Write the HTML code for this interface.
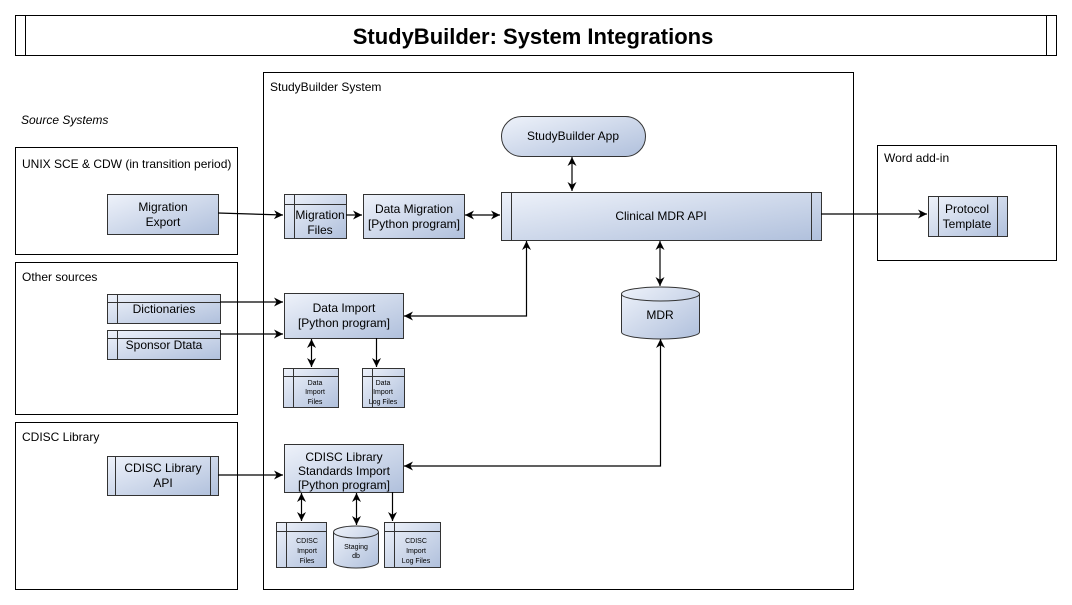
<!DOCTYPE html>
<html><head><meta charset="utf-8"><style>
body{margin:0;background:#fff}
svg{display:block}
text{font-family:"Liberation Sans",Arial,sans-serif;fill:#000}
</style></head><body>
<svg width="1072" height="605" viewBox="0 0 1072 605" xmlns="http://www.w3.org/2000/svg">
<defs>
<linearGradient id="g" x1="0" y1="0" x2="1" y2="1">
<stop offset="0" stop-color="#eef2fa"/><stop offset="1" stop-color="#b0c0dc"/>
</linearGradient>
<marker id="a" viewBox="0 0 10 10" refX="10" refY="5" markerWidth="9" markerHeight="9" orient="auto-start-reverse" markerUnits="userSpaceOnUse">
<path d="M0,0 L10,5 L0,10 L3,5 z" fill="#000"/>
</marker>
</defs>
<g fill="none" stroke="#000" stroke-width="1">
<rect x="15.5" y="15.5" width="1041" height="40"/>
<line x1="25.5" y1="15.5" x2="25.5" y2="55.5"/>
<line x1="1046.5" y1="15.5" x2="1046.5" y2="55.5"/>
<rect x="263.5" y="72.5" width="590" height="517"/>
<rect x="15.5" y="147.5" width="222" height="107"/>
<rect x="15.5" y="262.5" width="222" height="152"/>
<rect x="15.5" y="422.5" width="222" height="167"/>
<rect x="877.5" y="145.5" width="179" height="115"/>
</g>
<text x="533" y="44" font-size="22" font-weight="bold" text-anchor="middle">StudyBuilder: System Integrations</text>
<text x="270" y="91" font-size="12">StudyBuilder System</text>
<text x="21" y="124" font-size="12" font-style="italic">Source Systems</text>
<text x="22" y="168" font-size="12">UNIX SCE &amp; CDW (in transition period)</text>
<text x="22" y="281" font-size="12">Other sources</text>
<text x="22" y="441" font-size="12">CDISC Library</text>
<text x="884" y="162" font-size="12">Word add-in</text>

<g stroke="#333" stroke-width="1" fill="url(#g)">
<rect x="107.5" y="194.5" width="111" height="40"/>
<rect x="107.5" y="294.5" width="113" height="29"/>
<rect x="107.5" y="330.5" width="113" height="29"/>
<rect x="107.5" y="456.5" width="111" height="39"/>
<rect x="284.5" y="194.5" width="62" height="44"/>
<rect x="363.5" y="194.5" width="101" height="44"/>
<rect x="501.5" y="192.5" width="320" height="48"/>
<rect x="501.5" y="116.5" width="144" height="40" rx="20"/>
<rect x="284.5" y="293.5" width="119" height="45"/>
<rect x="283.5" y="368.5" width="55" height="39"/>
<rect x="362.5" y="368.5" width="42" height="39"/>
<rect x="284.5" y="444.5" width="119" height="48"/>
<rect x="276.5" y="522.5" width="50" height="45"/>
<rect x="384.5" y="522.5" width="56" height="45"/>
<rect x="928.5" y="196.5" width="79" height="40"/>
<path d="M621.5,294 A39,7 0 0 1 699.5,294 L699.5,332 A39,7 0 0 1 621.5,332 Z"/>
<path d="M621.5,294 A39,7 0 0 0 699.5,294" fill="none"/>
<path d="M333.5,532 A22.5,6 0 0 1 378.5,532 L378.5,562 A22.5,6 0 0 1 333.5,562 Z"/>
<path d="M333.5,532 A22.5,6 0 0 0 378.5,532" fill="none"/>
</g>
<g stroke="#333" stroke-width="1" fill="none">
<line x1="117.5" y1="294.5" x2="117.5" y2="323.5"/><line x1="107.5" y1="302.5" x2="220.5" y2="302.5"/>
<line x1="117.5" y1="330.5" x2="117.5" y2="359.5"/><line x1="107.5" y1="338.5" x2="220.5" y2="338.5"/>
<line x1="115.5" y1="456.5" x2="115.5" y2="495.5"/><line x1="210.5" y1="456.5" x2="210.5" y2="495.5"/>
<line x1="294.5" y1="194.5" x2="294.5" y2="238.5"/><line x1="284.5" y1="204.5" x2="346.5" y2="204.5"/>
<line x1="511.5" y1="192.5" x2="511.5" y2="240.5"/><line x1="811.5" y1="192.5" x2="811.5" y2="240.5"/>
<line x1="293.5" y1="368.5" x2="293.5" y2="407.5"/><line x1="283.5" y1="376.5" x2="338.5" y2="376.5"/>
<line x1="372.5" y1="368.5" x2="372.5" y2="407.5"/><line x1="362.5" y1="376.5" x2="404.5" y2="376.5"/>
<line x1="286.5" y1="522.5" x2="286.5" y2="567.5"/><line x1="276.5" y1="531.5" x2="326.5" y2="531.5"/>
<line x1="394.5" y1="522.5" x2="394.5" y2="567.5"/><line x1="384.5" y1="531.5" x2="440.5" y2="531.5"/>
<line x1="938.5" y1="196.5" x2="938.5" y2="236.5"/><line x1="997.5" y1="196.5" x2="997.5" y2="236.5"/>
</g>
<g font-size="12" text-anchor="middle">
<text x="163" y="211">Migration</text><text x="163" y="226">Export</text>
<text x="164" y="313">Dictionaries</text>
<text x="164" y="349">Sponsor Dtata</text>
<text x="163" y="472">CDISC Library</text><text x="163" y="487">API</text>
<text x="320" y="219">Migration</text><text x="320" y="234">Files</text>
<text x="414" y="213">Data Migration</text><text x="414" y="228">[Python program]</text>
<text x="661" y="220">Clinical MDR API</text>
<text x="573" y="140">StudyBuilder App</text>
<text x="660" y="319">MDR</text>
<text x="344" y="312">Data Import</text><text x="344" y="327">[Python program]</text>
<text x="344" y="461">CDISC Library</text><text x="344" y="475">Standards Import</text><text x="344" y="489">[Python program]</text>
<text x="967" y="213">Protocol</text><text x="967" y="228">Template</text>
</g>
<g font-size="7" text-anchor="middle">
<text x="315" y="385">Data</text><text x="315" y="394">Import</text><text x="315" y="404">Files</text>
<text x="383" y="385">Data</text><text x="383" y="394">Import</text><text x="383" y="404">Log Files</text>
<text x="307" y="543">CDISC</text><text x="307" y="553">Import</text><text x="307" y="563">Files</text>
<text x="356" y="549">Staging</text><text x="356" y="558">db</text>
<text x="416" y="543">CDISC</text><text x="416" y="553">Import</text><text x="416" y="563">Log Files</text>
</g>
<g stroke="#000" stroke-width="1.2" fill="none">
<path d="M218,213 L283,215" marker-end="url(#a)"/>
<path d="M346,215 L362,215" marker-end="url(#a)"/>
<path d="M465,215 L500,215" marker-start="url(#a)" marker-end="url(#a)"/>
<path d="M572,157 L572,191" marker-start="url(#a)" marker-end="url(#a)"/>
<path d="M821,214 L927,214" marker-end="url(#a)"/>
<path d="M660,241 L660,286" marker-start="url(#a)" marker-end="url(#a)"/>
<path d="M404,316 L526.5,316 L526.5,241" marker-start="url(#a)" marker-end="url(#a)"/>
<path d="M220,302 L283,302" marker-end="url(#a)"/>
<path d="M220,334 L283,334" marker-end="url(#a)"/>
<path d="M311.5,339 L311.5,367" marker-start="url(#a)" marker-end="url(#a)"/>
<path d="M376.5,338 L376.5,367" marker-end="url(#a)"/>
<path d="M218,475 L283,475" marker-end="url(#a)"/>
<path d="M404,466 L660.5,466 L660.5,339" marker-start="url(#a)" marker-end="url(#a)"/>
<path d="M301.5,493 L301.5,521" marker-start="url(#a)" marker-end="url(#a)"/>
<path d="M356.5,493 L356.5,525" marker-start="url(#a)" marker-end="url(#a)"/>
<path d="M392.5,492 L392.5,521" marker-end="url(#a)"/>
</g>
</svg>
</body></html>
